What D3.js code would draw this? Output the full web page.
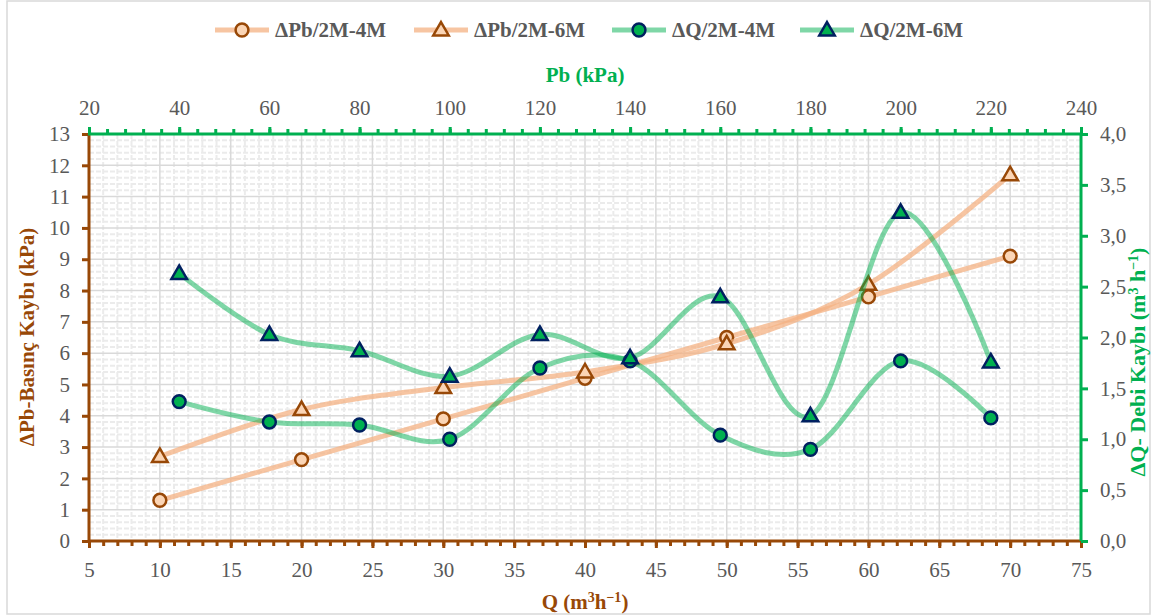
<!DOCTYPE html>
<html lang="tr">
<head>
  <meta charset="UTF-8">
  <title>ΔPb / ΔQ</title>
  <script src="https://cdn.jsdelivr.net/npm/d3@7"></script>
  <style>
    body { margin: 0; background: #fff; }
    svg text { font-family: "Liberation Serif", "DejaVu Serif", serif; }
  </style>
</head>
<body>
  <script>
    // primary series: Q (m3/h) vs ΔPb (kPa)
    const qValues = [10, 20, 30, 40, 50, 60, 70];
    const dPb4M = [1.3, 2.6, 3.9, 5.2, 6.5, 7.8, 9.1];
    const dPb6M = [2.7, 4.2, 4.9, 5.4, 6.3, 8.2, 11.7];

    // secondary series: Pb (kPa) vs ΔQ (m3/h)
    const pbValues = [40, 60, 80, 100, 120, 140, 160, 180, 200, 220];
    const dQ4M = [1.37, 1.17, 1.14, 1.00, 1.70, 1.77, 1.04, 0.90, 1.77, 1.21];
    const dQ6M = [2.63, 2.03, 1.87, 1.62, 2.03, 1.80, 2.40, 1.23, 3.23, 1.76];

    const seriesNames = ["ΔPb/2M-4M", "ΔPb/2M-6M", "ΔQ/2M-4M", "ΔQ/2M-6M"];

    const w = 1157, h = 616;
    const pLeft = 89, pRight = 1081, pTop = 134, pBottom = 541;

    const brown = "#984807", green = "#00b050";
    const orangeLine = "#f4b183", greenLine = "#00b050";
    const orangeFill = "#fbd5b5", navy = "#002060";
    const grey = "#595959";

    const svg = d3.select("body").append("svg")
      .attr("width", w).attr("height", h);

    svg.append("rect")
      .attr("x", 7).attr("y", 1).attr("width", 1143).attr("height", 613)
      .attr("fill", "#fff").attr("stroke", "#d9d9d9").attr("stroke-width", 1.5);

    const xQ = d3.scaleLinear().domain([5, 75]).range([pLeft, pRight]);
    const yPb = d3.scaleLinear().domain([0, 13]).range([pBottom, pTop]);
    const xPb = d3.scaleLinear().domain([20, 240]).range([pLeft, pRight]);
    const yQ = d3.scaleLinear().domain([0, 4]).range([pBottom, pTop]);

    // grid
    const grid = svg.append("g");
    grid.selectAll(".vmin").data(d3.range(6, 75).filter(d => d % 5 !== 0))
      .enter().append("line")
      .attr("x1", d => xQ(d)).attr("x2", d => xQ(d))
      .attr("y1", pTop).attr("y2", pBottom)
      .attr("stroke", "#ebebeb").attr("stroke-width", 2).attr("stroke-dasharray", "5,2");
    grid.selectAll(".hmin").data(d3.range(0.2, 13, 0.2).filter(d => Math.abs(d - Math.round(d)) > 0.01))
      .enter().append("line")
      .attr("x1", pLeft).attr("x2", pRight)
      .attr("y1", d => yPb(d)).attr("y2", d => yPb(d))
      .attr("stroke", "#ebebeb").attr("stroke-width", 2).attr("stroke-dasharray", "5,2");
    grid.selectAll(".vmaj").data(d3.range(10, 75, 5))
      .enter().append("line")
      .attr("x1", d => xQ(d)).attr("x2", d => xQ(d))
      .attr("y1", pTop).attr("y2", pBottom)
      .attr("stroke", "#d9d9d9").attr("stroke-width", 1.5);
    grid.selectAll(".hmaj").data(d3.range(1, 13))
      .enter().append("line")
      .attr("x1", pLeft).attr("x2", pRight)
      .attr("y1", d => yPb(d)).attr("y2", d => yPb(d))
      .attr("stroke", "#d9d9d9").attr("stroke-width", 1.5);

    function styleAxis(g, color) {
      g.select(".domain").remove();
      g.selectAll(".tick line").attr("stroke", color).attr("stroke-width", 3);
      g.selectAll(".tick text").attr("fill", grey).style("font-size", "21px");
    }

    // minor ticks
    svg.append("g").attr("transform", `translate(0,${pBottom})`)
      .call(d3.axisBottom(xQ).tickValues(d3.range(5, 76, 1)).tickSize(5).tickFormat(""))
      .call(g => styleAxis(g, brown));
    svg.append("g").attr("transform", `translate(0,${pTop})`)
      .call(d3.axisTop(xPb).tickValues(d3.range(20, 241, 4)).tickSize(5).tickFormat(""))
      .call(g => styleAxis(g, green));

    // major axes
    svg.append("g").attr("transform", `translate(0,${pBottom})`)
      .call(d3.axisBottom(xQ).tickValues(d3.range(5, 76, 5)).tickSize(7).tickPadding(14))
      .call(g => styleAxis(g, brown));
    svg.append("g").attr("transform", `translate(${pLeft},0)`)
      .call(d3.axisLeft(yPb).tickValues(d3.range(0, 14)).tickSize(7).tickPadding(12))
      .call(g => styleAxis(g, brown));
    svg.append("g").attr("transform", `translate(0,${pTop})`)
      .call(d3.axisTop(xPb).tickValues(d3.range(20, 241, 20)).tickSize(7).tickPadding(12))
      .call(g => styleAxis(g, green));
    svg.append("g").attr("transform", `translate(${pRight},0)`)
      .call(d3.axisRight(yQ).tickValues(d3.range(0, 4.01, 0.5)).tickSize(7).tickPadding(12)
        .tickFormat(d => d3.format(".1f")(d).replace(".", ",")))
      .call(g => styleAxis(g, green));

    // axis lines
    svg.append("line").attr("x1", pLeft).attr("x2", pLeft).attr("y1", pTop).attr("y2", pBottom)
      .attr("stroke", brown).attr("stroke-width", 3);
    svg.append("line").attr("x1", pLeft - 1).attr("x2", pRight).attr("y1", pBottom).attr("y2", pBottom)
      .attr("stroke", brown).attr("stroke-width", 3);
    svg.append("line").attr("x1", pLeft - 1).attr("x2", pRight + 1).attr("y1", pTop).attr("y2", pTop)
      .attr("stroke", green).attr("stroke-width", 3);
    svg.append("line").attr("x1", pRight).attr("x2", pRight).attr("y1", pTop).attr("y2", pBottom)
      .attr("stroke", green).attr("stroke-width", 3);

    // axis titles
    svg.append("text").attr("x", 585).attr("y", 82).attr("text-anchor", "middle")
      .attr("fill", green).attr("font-weight", "bold").style("font-size", "21px")
      .text("Pb (kPa)");
    const qt = svg.append("text").attr("x", 585).attr("y", 609).attr("text-anchor", "middle")
      .attr("fill", brown).attr("font-weight", "bold").style("font-size", "21px");
    qt.append("tspan").text("Q (m");
    qt.append("tspan").attr("dy", -7).style("font-size", "14px").text("3");
    qt.append("tspan").attr("dy", 7).text("h");
    qt.append("tspan").attr("dy", -7).style("font-size", "14px").text("−1");
    qt.append("tspan").attr("dy", 7).text(")");

    svg.append("text").attr("transform", "translate(34,337) rotate(-90)")
      .attr("text-anchor", "middle").attr("fill", brown).attr("font-weight", "bold")
      .style("font-size", "21px").text("ΔPb-Basınç Kaybı (kPa)");
    const rt = svg.append("text").attr("transform", "translate(1145,362) rotate(-90)")
      .attr("text-anchor", "middle").attr("fill", green).attr("font-weight", "bold")
      .style("font-size", "22px");
    rt.append("tspan").text("ΔQ- Debi Kaybı (m");
    rt.append("tspan").attr("dy", -7).style("font-size", "14px").text("3");
    rt.append("tspan").attr("dy", 7).text(" h");
    rt.append("tspan").attr("dy", -7).style("font-size", "14px").text("−1");
    rt.append("tspan").attr("dy", 7).text(")");

    // series
    const series = [
      { name: seriesNames[0], xs: qValues, ys: dPb4M, sx: xQ, sy: yPb, line: orangeLine, op: 0.75, fill: orangeFill, stroke: brown, shape: "circle" },
      { name: seriesNames[1], xs: qValues, ys: dPb6M, sx: xQ, sy: yPb, line: orangeLine, op: 0.75, fill: orangeFill, stroke: brown, shape: "triangle" },
      { name: seriesNames[2], xs: pbValues, ys: dQ4M, sx: xPb, sy: yQ, line: greenLine, op: 0.5, fill: green, stroke: navy, shape: "circle" },
      { name: seriesNames[3], xs: pbValues, ys: dQ6M, sx: xPb, sy: yQ, line: greenLine, op: 0.5, fill: green, stroke: navy, shape: "triangle" }
    ];

    const circleSym = d3.symbol().type(d3.symbolCircle).size(130);
    const triSym = d3.symbol().type(d3.symbolTriangle).size(105);

    function marker(g, s, x, y) {
      const sym = s.shape === "circle" ? circleSym : triSym;
      g.append("path").attr("d", sym())
        .attr("transform", `translate(${x},${y + (s.shape === "circle" ? 0 : 1)})`)
        .attr("fill", s.fill).attr("stroke", s.stroke).attr("stroke-width", 2.5);
    }

    series.forEach(s => {
      const pts = s.xs.map((x, i) => [s.sx(x), s.sy(s.ys[i])]);
      const line = d3.line().curve(d3.curveCatmullRom.alpha(0));
      const g = svg.append("g");
      g.append("path").attr("d", line(pts)).attr("fill", "none")
        .attr("stroke", s.line).attr("stroke-opacity", s.op).attr("stroke-width", 5)
        .attr("stroke-linecap", "round");
      pts.forEach(p => marker(g, s, p[0], p[1]));
    });

    // legend
    const legendX = [215, 414, 612, 800];
    const lg = svg.append("g");
    series.forEach((s, i) => {
      const x0 = legendX[i], cy = 30;
      lg.append("line").attr("x1", x0).attr("x2", x0 + 54).attr("y1", cy).attr("y2", cy)
        .attr("stroke", s.line).attr("stroke-opacity", s.op).attr("stroke-width", 5);
      marker(lg, s, x0 + 27, cy);
      lg.append("text").attr("x", x0 + 60).attr("y", cy + 7)
        .attr("fill", grey).attr("font-weight", "bold").style("font-size", "21px")
        .text(s.name);
    });
  </script>
</body>
</html>
